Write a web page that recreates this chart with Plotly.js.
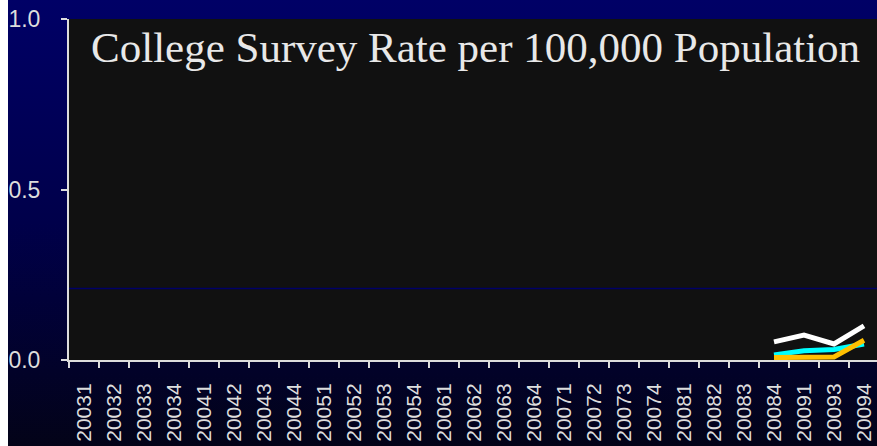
<!DOCTYPE html>
<html>
<head>
<meta charset="utf-8">
<script src="https://cdn.plot.ly/plotly-3.0.1.min.js"></script>
<style>
html, body { margin: 0; padding: 0; width: 877px; height: 446px; overflow: hidden; }
body {
  background:
    linear-gradient(to right, #ffffff 0px, #ffffff 8px, rgba(0,0,0,0) 8px),
    linear-gradient(to bottom, #000066 0%, #00004a 50%, #030318 100%);
}
#chart { width: 879px; height: 446px; }
</style>
</head>
<body>
<div id="chart"></div>
<script>
const categories = ["20031","20032","20033","20034","20041","20042","20043","20044",
  "20051","20052","20053","20054","20061","20062","20063","20064",
  "20071","20072","20073","20074","20081","20082","20083","20084",
  "20091","20093","20094"];
const pad = new Array(23).fill(null);
const whiteSeries  = pad.concat([0.053, 0.073, 0.047, 0.100]);
const cyanSeries   = pad.concat([0.015, 0.027, 0.031, 0.047]);
const orangeSeries = pad.concat([0.007, 0.008, 0.009, 0.058]);
const yTickVals = [0, 0.5, 1];
const yTickText = ["0.0", "0.5", "1.0"];
const refLineValue = 0.21;
const titleText = "College Survey Rate per 100,000 Population";

const traces = [
  { x: categories, y: whiteSeries, type: "scatter", mode: "lines",
    line: { color: "#ffffff", width: 5 }, hoverinfo: "skip" },
  { x: categories, y: cyanSeries, type: "scatter", mode: "lines",
    line: { color: "#00ffff", width: 5 }, hoverinfo: "skip" },
  { x: categories, y: orangeSeries, type: "scatter", mode: "lines",
    line: { color: "#ffc000", width: 5 }, hoverinfo: "skip" }
];

const layout = {
  width: 879, height: 446,
  margin: { l: 69, r: 0, t: 19, b: 86, pad: 0 },
  paper_bgcolor: "rgba(0,0,0,0)",
  plot_bgcolor: "#111111",
  showlegend: false,
  title: {
    text: titleText,
    font: { family: "Liberation Serif, Times New Roman, serif", size: 43, color: "#e8e8e8" },
    x: 91 / 879, xanchor: "left", xref: "container",
    y: 1 - 47 / 446, yanchor: "middle", yref: "container"
  },
  xaxis: {
    type: "category",
    range: [-0.5, categories.length - 0.5],
    tickangle: -90,
    tickson: "boundaries",
    ticks: "outside", ticklen: 6, tickwidth: 2, tickcolor: "#dddddd",
    showline: true, linecolor: "#dddddd", linewidth: 2,
    showgrid: false, zeroline: false,
    tickfont: { family: "Liberation Sans, Arial, sans-serif", size: 21, color: "#dddddd" },
    ticklabelstandoff: 13
  },
  yaxis: {
    range: [0, 1],
    tickvals: yTickVals, ticktext: yTickText,
    ticks: "outside", ticklen: 6, tickwidth: 2, tickcolor: "#dddddd",
    showline: true, linecolor: "#dddddd", linewidth: 2,
    showgrid: false, zeroline: false,
    tickfont: { family: "Liberation Sans, Arial, sans-serif", size: 23, color: "#dddddd" },
    ticklabelstandoff: 16
  },
  shapes: [
    { type: "line", xref: "paper", yref: "y", x0: 0, x1: 1, y0: refLineValue, y1: refLineValue,
      line: { color: "#000066", width: 1.5 }, layer: "below" }
  ]
};

Plotly.newPlot("chart", traces, layout, { staticPlot: true, displayModeBar: false });
</script>
</body>
</html>
